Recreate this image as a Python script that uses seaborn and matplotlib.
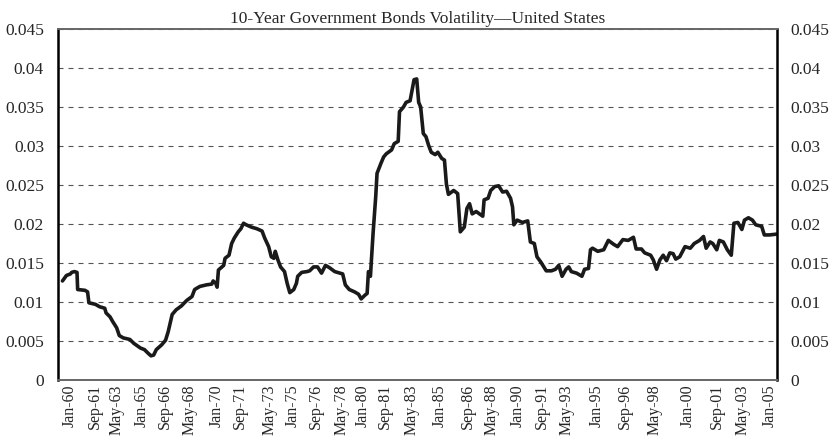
import matplotlib
matplotlib.use("Agg")
import matplotlib.pyplot as plt
import pandas as pd
import seaborn as sns

obs = [0, 3, 6, 7, 9, 11, 11.5, 17, 19, 20, 25, 28, 32, 33, 36, 38, 41, 43, 46, 51,
       54, 59, 62, 65, 67, 69, 71, 75, 78, 80, 83, 86, 90, 94, 98, 100, 104, 109, 113, 114,
       116, 117, 118, 122, 123, 126, 128, 130, 133, 135, 137, 139, 143, 147, 151, 153, 156, 158, 160, 161,
       163, 165, 168, 170, 172, 175, 177, 178, 181, 185, 187, 190, 193, 196, 199, 202, 206, 210, 212, 214,
       217, 221, 224, 226, 229, 230.5, 231.5, 233, 235, 237, 238, 241, 243, 245, 249, 251, 254, 255, 258, 260,
       263, 264, 266, 268, 269.5, 271, 273, 275, 277, 279, 282, 284, 287, 289, 290.5, 292, 296, 299, 301, 304,
       306, 308, 310, 313, 318, 319, 322, 324, 327, 330, 333, 336, 339, 340.5, 341.5, 344, 348, 352, 354, 357,
       359, 362, 366, 370, 373, 375.5, 378, 381, 383, 385, 389, 393, 395, 398, 399.5, 401, 405, 409.5, 413, 417,
       420, 424, 428, 432, 434, 438, 440.5, 445, 447, 449.5, 452, 454.5, 457, 459.5, 462, 464, 467, 471, 475, 478,
       482, 485, 487, 490, 492, 495, 497, 500, 503, 506, 508, 511, 514, 516, 519, 522, 524.5, 529, 531, 535,
       540]
vol = [0.0127, 0.0134, 0.0136, 0.0138, 0.0139, 0.0138, 0.0116, 0.0115, 0.0113, 0.0099, 0.0097, 0.0094, 0.0092, 0.0086, 0.0081, 0.0075, 0.0067, 0.0057, 0.0054, 0.0052,
       0.0047, 0.0041, 0.0039, 0.0034, 0.0031, 0.0032, 0.0039, 0.0045, 0.0051, 0.0062, 0.0084, 0.0090, 0.0095, 0.0102, 0.0107, 0.0116, 0.0120, 0.0122, 0.0123, 0.0127,
       0.0124, 0.0119, 0.0141, 0.0147, 0.0156, 0.0160, 0.0175, 0.0182, 0.0190, 0.0194, 0.0201, 0.0199, 0.0196, 0.0194, 0.0191, 0.0182, 0.0171, 0.0158, 0.0156, 0.0165,
       0.0154, 0.0145, 0.0139, 0.0124, 0.0112, 0.0116, 0.0124, 0.0133, 0.0138, 0.0139, 0.0140, 0.0145, 0.0145, 0.0137, 0.0147, 0.0144, 0.0139, 0.0137, 0.0136, 0.0122,
       0.0116, 0.0113, 0.0110, 0.0104, 0.0109, 0.0111, 0.0139, 0.0133, 0.0188, 0.0235, 0.0265, 0.0278, 0.0286, 0.0290, 0.0295, 0.0303, 0.0306, 0.0344, 0.0350, 0.0356,
       0.0358, 0.0367, 0.0385, 0.0386, 0.0356, 0.0350, 0.0316, 0.0312, 0.0301, 0.0292, 0.0289, 0.0292, 0.0284, 0.0282, 0.0251, 0.0238, 0.0243, 0.0239, 0.0190, 0.0196,
       0.0220, 0.0226, 0.0213, 0.0216, 0.0210, 0.0231, 0.0233, 0.0243, 0.0248, 0.0249, 0.0241, 0.0242, 0.0233, 0.0222, 0.0199, 0.0205, 0.0202, 0.0204, 0.0177, 0.0175,
       0.0158, 0.0151, 0.0140, 0.0140, 0.0142, 0.0147, 0.0133, 0.0142, 0.0145, 0.0139, 0.0137, 0.0133, 0.0142, 0.0143, 0.0167, 0.0169, 0.0165, 0.0167, 0.0179, 0.0174,
       0.0171, 0.0180, 0.0179, 0.0183, 0.0168, 0.0168, 0.0163, 0.0160, 0.0154, 0.0142, 0.0154, 0.0160, 0.0153, 0.0163, 0.0162, 0.0155, 0.0158, 0.0171, 0.0169, 0.0175,
       0.0179, 0.0184, 0.0169, 0.0177, 0.0175, 0.0167, 0.0179, 0.0177, 0.0167, 0.0160, 0.0201, 0.0202, 0.0193, 0.0205, 0.0208, 0.0205, 0.0199, 0.0197, 0.0186, 0.0186,
       0.0187]

tick_labels = ["Jan-60", "Sep-61", "May-63", "Jan-65", "Sep-66", "May-68", "Jan-70",
               "Sep-71", "May-73", "Jan-75", "Sep-76", "May-78", "Jan-80", "Sep-81",
               "May-83", "Jan-85", "Sep-86", "May-88", "Jan-90", "Sep-91", "May-93",
               "Jan-95", "Sep-96", "May-98", "Jan-00", "Sep-01", "May-03", "Jan-05"]
# where each label sits along the (unevenly spaced) category axis
tick_obs = [5.7, 24.6, 41.2, 60.1, 77.5, 96.4, 116.8, 134.2, 156.9, 174.3, 191.7, 211.4,
            227.2, 243.9, 264.3, 285.5, 306.7, 324.8, 344.5, 362.6, 381.5, 404.2, 425.4,
            448.1, 473.1, 495.0, 514.7, 535.1]

y_ticks = [0, 0.005, 0.01, 0.015, 0.02, 0.025, 0.03, 0.035, 0.04, 0.045]
y_labels = ["0", "0.005", "0.01", "0.015", "0.02", "0.025", "0.03", "0.035", "0.04", "0.045"]

df = pd.DataFrame({"obs": obs, "vol": vol})

sns.set_style("white")
plt.rcParams["font.family"] = ["Liberation Serif", "DejaVu Serif"]

fig = plt.figure(figsize=(8.34, 4.37), dpi=100)
ax = fig.add_axes([0.0695, 0.1304, 0.862, 0.8032])

ax.yaxis.grid(True, linestyle=(0, (4.5, 4.5)), color="#555555", linewidth=0.8)
ax.set_axisbelow(True)

sns.lineplot(data=df, x="obs", y="vol", ax=ax, color="#1a1a1a", linewidth=2.6)

ax.set_xlim(-3.4, 540.5)
ax.set_ylim(0, 0.045)
ax.set_xticks(tick_obs)
ax.set_xticklabels(tick_labels, rotation=90, fontsize=11.5)
ax.set_yticks(y_ticks)
ax.set_yticklabels(y_labels, fontsize=12.5)
ax.tick_params(axis="both", length=0)
ax.tick_params(axis="y", pad=10, labelright=True, labelleft=True)
ax.tick_params(axis="x", pad=3)
ax.set_xlabel("")
ax.set_ylabel("")

for side in ["left", "right"]:
    ax.spines[side].set_color("black")
    ax.spines[side].set_linewidth(1.8)
for side in ["top", "bottom"]:
    ax.spines[side].set_color("#666666")
    ax.spines[side].set_linewidth(1.4)
    ax.spines[side].set_visible(True)

ax.set_title("10-Year Government Bonds Volatility\u2014United States", fontsize=12.5, pad=4)

fig.savefig("out.png", dpi=100)
